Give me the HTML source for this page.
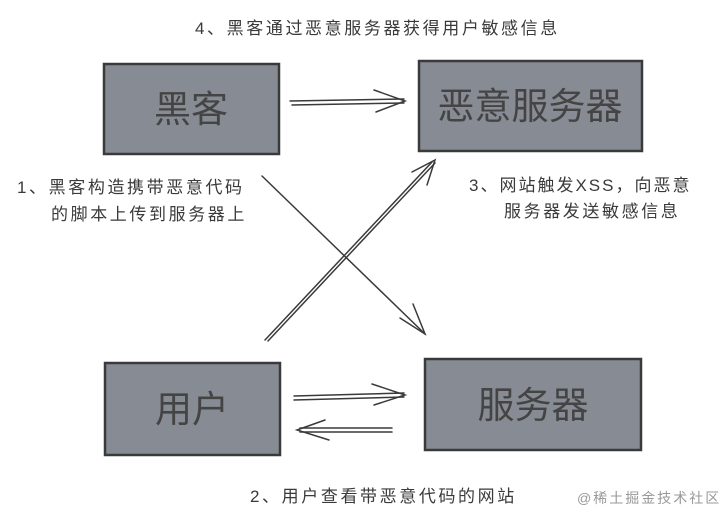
<!DOCTYPE html>
<html><head><meta charset="utf-8"><style>
html,body{margin:0;padding:0;background:#fff;width:726px;height:525px;overflow:hidden}
svg text{font-family:"Liberation Sans","Noto Sans CJK SC",sans-serif}
</style></head><body>
<svg width="726" height="525" viewBox="0 0 726 525" xmlns="http://www.w3.org/2000/svg">
<g fill="#868b94" stroke="#3a3a3a" stroke-width="2.5">
<rect x="104" y="64" width="175" height="90"/>
<rect x="419" y="61" width="223" height="90"/>
<rect x="105" y="363" width="175" height="92"/>
<rect x="425" y="359" width="216" height="91"/>
</g>
<g fill="none" stroke="#3a3a3a" stroke-width="1.5" stroke-linecap="round">
<line x1="290" y1="101" x2="404" y2="99"/><line x1="292" y1="105" x2="404" y2="103"/>
<path d="M374 90 L405 101 L376 112"/>
<line x1="294" y1="396" x2="404" y2="393"/><line x1="294" y1="400" x2="404" y2="397"/>
<path d="M372 384 L405 395 L374 405"/>
<line x1="392" y1="428" x2="300" y2="428"/><line x1="392" y1="432" x2="300" y2="432"/>
<path d="M325 420 L297 430 L329 440"/>
<line x1="262" y1="176" x2="425" y2="334"/>
<path d="M400 318 L425 334 L413 304"/>
<line x1="265" y1="340" x2="432" y2="162"/><line x1="268" y1="341" x2="435" y2="163"/>
<path d="M412 172 L435 160 L427 185"/>
</g>
<g fill="#444" font-size="37" text-anchor="middle">
<text x="191" y="122">黑客</text>
<text x="530" y="119">恶意服务器</text>
<text x="192" y="422">用户</text>
<text x="533" y="418">服务器</text>
</g>
<g fill="#3a3a3a" font-size="17" letter-spacing="2.6">
<text x="195" y="34">4、黑客通过恶意服务器获得用户敏感信息</text>
<text x="17" y="193">1、黑客构造携带恶意代码</text>
<text x="51" y="220">的脚本上传到服务器上</text>
<text x="469" y="191" letter-spacing="2">3、网站触发XSS，向恶意</text>
<text x="504" y="217">服务器发送敏感信息</text>
<text x="250" y="502">2、用户查看带恶意代码的网站</text>
</g>
<text x="577" y="503" font-size="14" letter-spacing="2" fill="#999">@稀土掘金技术社区</text>
</svg>
</body></html>
